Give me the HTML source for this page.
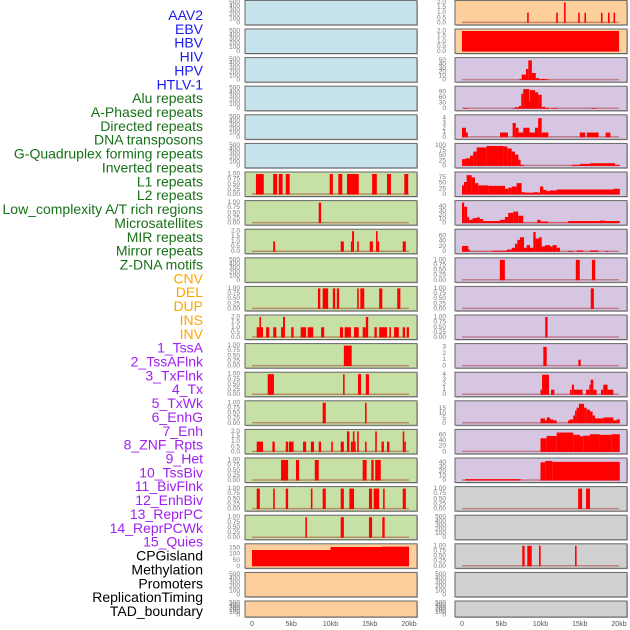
<!DOCTYPE html>
<html><head><meta charset="utf-8"><style>
html,body{margin:0;padding:0;background:#fff;}
svg{display:block;font-family:"Liberation Sans",sans-serif;}
</style></head><body>
<svg id="chart" width="630" height="630" viewBox="0 0 630 630" xmlns="http://www.w3.org/2000/svg"></svg>
<script>
// ---- row labels ----
const labelNames = ["AAV2","EBV","HBV","HIV","HPV","HTLV-1","Alu repeats","A-Phased repeats","Directed repeats","DNA transposons","G-Quadruplex forming repeats","Inverted repeats","L1 repeats","L2 repeats","Low_complexity A/T rich regions","Microsatellites","MIR repeats","Mirror repeats","Z-DNA motifs","CNV","DEL","DUP","INS","INV","1_TssA","2_TssAFlnk","3_TxFlnk","4_Tx","5_TxWk","6_EnhG","7_Enh","8_ZNF_Rpts","9_Het","10_TssBiv","11_BivFlnk","12_EnhBiv","13_ReprPC","14_ReprPCWk","15_Quies","CPGisland","Methylation","Promoters","ReplicationTiming","TAD_boundary"];
const labelGroups = [6,13,5,15,5];
const groupColors = ["#1a1aee","#187018","#ffa500","#a020f0","#000000"];
// ---- x axis ----
const xTicks = [0,5,10,15,20];
const xTickLabels = ["0","5kb","10kb","15kb","20kb"];
// ---- tick sets ----
const T500 = [0,100,200,300,400,500];
const T1 = [0,0.25,0.5,0.75,1];
const T2 = [0,0.5,1,1.5,2];
// ---- left column bars [startKb, endKb, value] ----
const L_L1 = [[0.5,1.5,1],[2.7,3.2,1],[3.4,3.9,1],[4.3,4.8,1],[9.9,10.3,1],[11,11.5,1],[12.1,13.6,1],[15.3,15.9,1],[17.2,17.7,1],[19.4,19.9,1]];
const L_LowC = [[8.5,8.8,1]];
const L_Micro = [[2.7,2.95,1],[11.3,11.7,1],[12.6,12.75,1],[12.75,13.0,2],[13.4,13.6,1],[15.0,15.4,1],[15.8,16.0,2],[16.0,16.2,1],[19.2,19.6,1]];
const L_Row10 = [[8.4,8.7,1],[9.0,9.7,1],[10.3,10.6,1],[10.8,11.1,1],[13.4,13.6,1],[13.8,14.3,1],[16.2,16.6,1],[18.5,18.9,1]];
const L_Row11 = [[0.6,0.95,1],[0.95,1.15,2],[1.15,1.4,1],[1.8,2.2,1],[2.7,3.1,1],[3.7,3.95,1],[3.95,4.2,2],[5.0,5.3,1],[6.2,6.9,1],[7.1,7.8,1],[8.8,9.2,1],[11.2,11.6,1],[11.8,12.6,1],[13.0,13.6,1],[14.1,14.5,1],[14.5,14.8,2],[15.6,15.9,1],[16.2,17.2,1],[17.5,17.7,1],[18.1,18.7,1],[19.2,19.5,1],[19.7,20.0,1]];
const L_Row12 = [[11.7,12.7,1]];
const L_Row13 = [[2.0,2.8,1],[11.6,11.8,1],[13.5,13.9,1],[14.5,14.9,1]];
const L_Row14 = [[9.0,9.4,1],[14.4,14.6,1]];
const L_Row15 = [[0.6,1.4,1],[2.6,2.9,1],[4.3,4.6,1],[4.7,5.3,1],[6.5,6.9,1],[7.5,7.9,1],[8.5,8.8,1],[10.1,10.3,1],[11.3,11.7,1],[12.1,12.4,2],[12.6,12.85,1],[12.85,13.05,2],[13.05,13.2,1],[13.4,13.6,2],[14.4,14.6,1],[15.7,15.9,2],[16.5,16.8,1],[17.2,17.5,1],[19.2,19.4,2],[19.4,19.6,1]];
const L_Row16 = [[3.7,4.6,1],[5.6,6.0,1],[8.0,8.5,1],[14.1,14.6,1],[15.2,15.5,1],[15.7,16.4,1]];
const L_Row17 = [[0.6,1.0,1],[2.7,2.9,1],[4.3,4.6,1],[7.5,7.7,1],[9.0,9.4,1],[11.3,11.7,1],[12.4,13.0,1],[14.9,15.3,1],[15.5,16.2,1],[16.7,16.9,1],[19.2,19.6,1]];
const L_Row18 = [[6.8,7.0,1],[11.3,11.7,1],[14.9,15.3,1],[16.6,16.9,1]];
const L_CPG = [[0,10,135],[10,16.5,160],[16.5,20,163]];
// ---- right column bars ----
const R_Row0 = [[8.3,8.5,1],[12.0,12.2,1],[13.0,13.2,2],[14.8,15.0,1],[15.6,15.8,1],[17.7,17.9,1],[18.6,18.8,1],[19.3,19.5,1]];
const R_Row1 = [[0,20,2]];
const R_Row2 = [[7.3,7.6,2],[7.6,8.15,14],[8.15,8.45,28],[8.45,8.9,50],[8.9,9.4,18],[9.4,9.85,5],[9.85,10.15,2],[10.15,10.6,3],[10.6,11.0,2]];
const R_Row3 = [[0.25,0.7,3],[6.45,6.75,3],[6.75,7.25,8],[7.25,7.55,15],[7.55,7.8,80],[7.8,8.6,105],[8.6,8.66,40],[8.66,9.3,100],[9.3,9.7,88],[9.7,10.15,75],[10.15,10.6,10],[10.6,11.1,5],[11.4,12.15,3],[16.5,17.1,3]];
const R_Row4 = [[0,0.5,2],[0.5,0.75,1],[4.85,5.85,1],[6.45,6.85,3],[6.85,7.2,2],[7.2,7.8,1],[7.8,8.6,2],[8.6,9.3,1],[9.3,9.7,2],[9.7,10.15,4],[10.15,11.0,1],[15.0,15.7,1],[15.9,17.4,1],[18.3,18.9,1]];
const R_Row5 = [[0,0.43,33],[0.43,1.02,37],[1.02,1.44,50],[1.44,1.87,70],[1.87,3.14,90],[3.14,5.27,97],[5.27,5.78,95],[5.78,6.33,85],[6.33,6.75,70],[6.75,7.18,55],[7.18,7.47,30],[7.47,7.9,5],[13.97,15.03,5],[15.03,16.3,10],[16.3,19.49,13],[19.49,20.1,5]];
const R_Row6 = [[0,0.25,40],[0.25,0.59,55],[0.59,1.23,85],[1.23,1.66,75],[1.66,2.08,50],[2.08,3.35,40],[3.35,5.48,38],[5.48,5.9,25],[5.9,6.33,30],[6.33,6.96,35],[6.96,7.6,50],[7.6,8.03,10],[8.03,9.09,8],[9.09,9.72,10],[9.72,9.94,8],[9.94,10.36,35],[10.36,10.79,20],[10.79,11.21,15],[11.21,12.06,18],[12.06,19.3,22],[19.3,20.1,25]];
const R_Row7 = [[0,0.27,50],[0.27,0.65,40],[0.65,0.91,15],[0.91,1.34,8],[1.34,1.85,12],[1.85,2.27,14],[2.27,2.7,10],[2.7,4.82,5],[4.82,5.46,8],[5.46,5.88,15],[5.88,6.52,25],[6.52,7.16,28],[7.16,7.8,18],[7.8,9.58,1],[9.58,10.0,8],[10.0,10.98,4],[10.98,13.53,1],[13.53,17.56,5],[17.56,18.2,6],[18.2,20.1,5]];
const R_Row8 = [[0,0.8,22],[0.8,1.02,8],[1.02,3.78,1],[3.78,5.69,4],[5.69,6.33,8],[6.33,6.75,15],[6.75,7.05,30],[7.05,7.39,45],[7.39,7.9,55],[7.9,8.24,15],[8.24,8.66,25],[8.66,9.09,15],[9.09,9.38,75],[9.38,9.81,50],[9.81,10.15,55],[10.15,10.57,20],[10.57,11.21,25],[11.21,11.55,20],[11.55,12.06,25],[12.06,12.48,15],[13.53,14.17,3],[14.6,15.45,5],[16.3,17.36,5],[18.34,18.63,3]];
const R_Row9 = [[4.82,5.46,1],[14.5,15.0,1],[16.55,16.97,1]];
const R_Row10 = [[16.4,16.8,1]];
const R_Row11 = [[10.6,10.9,1]];
const R_Row12 = [[10.36,10.79,3],[14.82,15.12,1]];
const R_Row13 = [[10.0,10.2,1],[10.2,11.08,4],[11.34,11.77,1],[13.75,13.97,1],[14.0,14.26,2],[14.26,15.35,1],[15.8,16.22,1],[16.22,16.39,2],[16.39,16.73,3],[16.73,17.15,1],[17.7,18.0,1],[18.0,18.55,2],[18.55,19.28,1]];
const R_Row14 = [[10.0,10.57,5],[10.57,10.79,3],[10.79,11.21,6],[11.21,11.63,4],[11.63,12.06,3],[13.5,13.75,3],[13.75,14.17,4],[14.17,14.4,8],[14.4,14.6,13],[14.6,14.9,16],[14.9,15.55,20],[15.55,15.88,16],[15.88,16.3,14],[16.3,16.64,12],[16.64,16.94,8],[16.94,18.0,5],[18.0,19.28,6],[19.28,19.7,3],[19.7,20.1,4]];
const R_Row15 = [[10.0,10.79,48],[10.79,12.06,56],[12.06,14.17,68],[14.17,15.03,60],[15.03,15.45,55],[15.45,16.3,57],[16.3,17.57,62],[17.57,19.07,60],[19.07,20.1,62]];
const R_Row16 = [[0.41,7.47,3],[10.0,10.6,40],[10.6,11.5,43],[11.5,20.1,41]];
const R_Row17 = [[14.8,15.3,1],[15.8,16.3,1]];
const R_Row19 = [[7.68,7.98,1],[8.32,8.88,1],[9.81,10.02,1],[14.4,14.6,1]];

const BLUE="#c7e3eb", GREEN="#c7e0a5", PEACH="#fdcf9d", LAV="#d6c6e2", GRAY="#d0d0d0";
const leftPanels = [
 [BLUE,T500,500,null,0],[BLUE,T500,500,null,0],[BLUE,T500,500,null,0],[BLUE,T500,500,null,0],[BLUE,T500,500,null,0],[BLUE,T500,500,null,0],
 [GREEN,T1,1,L_L1,2],[GREEN,T1,1,L_LowC,2],[GREEN,T2,2,L_Micro,1],[GREEN,T500,500,null,0],[GREEN,T1,1,L_Row10,2],[GREEN,T2,2,L_Row11,1],
 [GREEN,T1,1,L_Row12,2],[GREEN,T1,1,L_Row13,2],[GREEN,T1,1,L_Row14,2],[GREEN,T2,2,L_Row15,1],[GREEN,T1,1,L_Row16,2],[GREEN,T1,1,L_Row17,2],[GREEN,T1,1,L_Row18,2],
 [PEACH,[0,50,100,150],170,L_CPG,0],[PEACH,T500,500,null,0],[PEACH,T500,500,null,0]
];
const rightPanels = [
 [PEACH,T2,2,R_Row0,1],[PEACH,T2,2,R_Row1,1],[LAV,[0,10,20,30,40,50],52,R_Row2,0],[LAV,[0,30,60,90],110,R_Row3,0],[LAV,[0,1,2,3,4],4.3,R_Row4,0],
 [LAV,[0,25,50,75,100],100,R_Row5,0],[LAV,[0,25,50,75],90,R_Row6,0],[LAV,[0,10,20,30,40],50,R_Row7,0],[LAV,[0,20,40,60],78,R_Row8,0],
 [LAV,T1,1,R_Row9,2],[LAV,T1,1,R_Row10,2],[LAV,T1,1,R_Row11,2],[LAV,[0,1,2,3],3.2,R_Row12,0],[LAV,[0,1,2,3,4],4.1,R_Row13,0],
 [LAV,[0,5,10,15],21,R_Row14,0],[LAV,[0,20,40,60],72,R_Row15,0],[LAV,[0,10,20,30,40],45,R_Row16,0],
 [GRAY,T1,1,R_Row17,2],[GRAY,T500,500,null,0],[GRAY,T1,1,R_Row19,2],[GRAY,T500,500,null,0],[GRAY,T500,500,null,0]
];

const NS="http://www.w3.org/2000/svg";
const svg=document.getElementById('chart');
function mk(tag,attrs,parent){const e=document.createElementNS(NS,tag);for(const k in attrs)e.setAttribute(k,attrs[k]);(parent||svg).appendChild(e);return e;}

// labels
let li=0;
labelGroups.forEach((n,g)=>{for(let k=0;k<n;k++){
  const t=mk('text',{x:203,y:15+li*13.86,'text-anchor':'end','dominant-baseline':'central','font-size':14,fill:groupColors[g]});
  t.textContent=labelNames[li];
  
  
  li++;}});

function rowTop(i){return 0.4+i*28.6;}
function rowH(i){return i===21?16:24.5;}

function drawPanel(spec,i,col){
  const [bg,ticks,ymax,bars,dec]=spec;
  const px0 = col===0?245:455, px1 = col===0?417:627;
  const x0kb = col===0?252:462, scale=7.85;
  const xs = kb=>x0kb+kb*scale;
  const top=rowTop(i), h=rowH(i), bot=top+h;
  const yb=bot-2, yt=top+2;
  const ys = v=>yb-(v/ymax)*(yb-yt);
  const g=mk('g',{});
  
  
  mk('rect',{x:px0+1,y:top+1,width:px1-px0,height:h,fill:'#bbb'},g);
  mk('rect',{x:px0,y:top,width:px1-px0,height:h,fill:bg,stroke:'#666',"stroke-width":1},g);
  // ticks
  ticks.forEach(v=>{
    const t=mk('text',{x:col===0?240:446,y:ys(v),'text-anchor':'end','dominant-baseline':'central','font-size':6.5,fill:'#777'},g);
    t.textContent = dec===2? v.toFixed(2) : dec===1? v.toFixed(1) : String(v);
    
    
  });
  if(bars){
    if(bg!==PEACH || col===1) mk('line',{x1:xs(0),x2:xs(20),y1:yb-0.5,y2:yb-0.5,stroke:'rgba(160,40,40,0.45)','stroke-width':1.5},g);
    bars.forEach(b=>{
      const r=mk('rect',{x:xs(b[0]),y:ys(b[2]),width:Math.max(1.2,xs(b[1])-xs(b[0])),height:yb-ys(b[2]),fill:'#ff0000'},g);
      
      
    });
  }
}
leftPanels.forEach((p,i)=>drawPanel(p,i,0));
rightPanels.forEach((p,i)=>drawPanel(p,i,1));

// x axes
[252,462].forEach((x0,c)=>{
  xTicks.forEach((v,k)=>{
    const t=mk('text',{x:x0+v*7.85,y:626,'text-anchor':'middle','font-size':7,fill:'#555'});
    t.textContent=xTickLabels[k];
    
    
  });
});
</script>
</body></html>
